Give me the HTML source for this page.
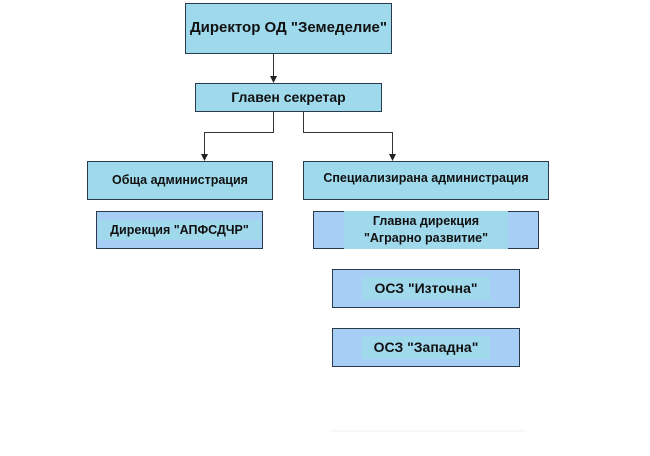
<!DOCTYPE html>
<html><head><meta charset="utf-8"><style>
body{margin:0;width:650px;height:456px;background:#fff;position:relative;overflow:hidden;font-family:"Liberation Sans",sans-serif;font-weight:bold;color:#111}
.b{position:absolute;box-sizing:border-box;border:1px solid #2b3a4a;display:flex;align-items:center;justify-content:center;text-align:center;line-height:1.35;white-space:nowrap}
.t{background:#9fd9ec}
.l{background:#a7cef4}
.l span{background:#a0d8ec;padding:2px 12px}
svg{position:absolute;left:0;top:0}
</style></head><body>
<svg width="650" height="456">
<g stroke="#333" stroke-width="1" fill="none">
<line x1="273.5" y1="53" x2="273.5" y2="77"/>
<polyline points="273.5,112 273.5,132.5 204.5,132.5 204.5,155"/>
<polyline points="303.5,112 303.5,132.5 392.5,132.5 392.5,155"/>
</g>
<g fill="#222">
<polygon points="270,76 277,76 273.5,83"/>
<polygon points="201,154 208,154 204.5,161"/>
<polygon points="389,154 396,154 392.5,161"/>
</g>
<line x1="330" y1="431" x2="526" y2="431" stroke="#f2f2f2"/>
</svg>
<div class="b t" style="left:185px;top:3px;width:207px;height:51px;font-size:15px">Директор ОД "Земеделие"</div>
<div class="b t" style="left:195px;top:83px;width:187px;height:29px;font-size:14px">Главен секретар</div>
<div class="b t" style="left:87px;top:161px;width:186px;height:39px;font-size:12.5px">Обща администрация</div>
<div class="b t" style="left:303px;top:161px;width:246px;height:39px;font-size:12.5px;padding-bottom:4px">Специализирана администрация</div>
<div class="b l" style="left:96px;top:211px;width:167px;height:38px;font-size:12.5px"><span>Дирекция "АПФСДЧР"</span></div>
<div class="b l" style="left:313px;top:211px;width:226px;height:38px;font-size:12.5px"><span style="padding:2px 20px">Главна дирекция<br>"Аграрно развитие"</span></div>
<div class="b l" style="left:332px;top:269px;width:188px;height:39px;font-size:14px"><span>ОСЗ "Източна"</span></div>
<div class="b l" style="left:332px;top:328px;width:188px;height:39px;font-size:14px"><span>ОСЗ "Западна"</span></div>
</body></html>
